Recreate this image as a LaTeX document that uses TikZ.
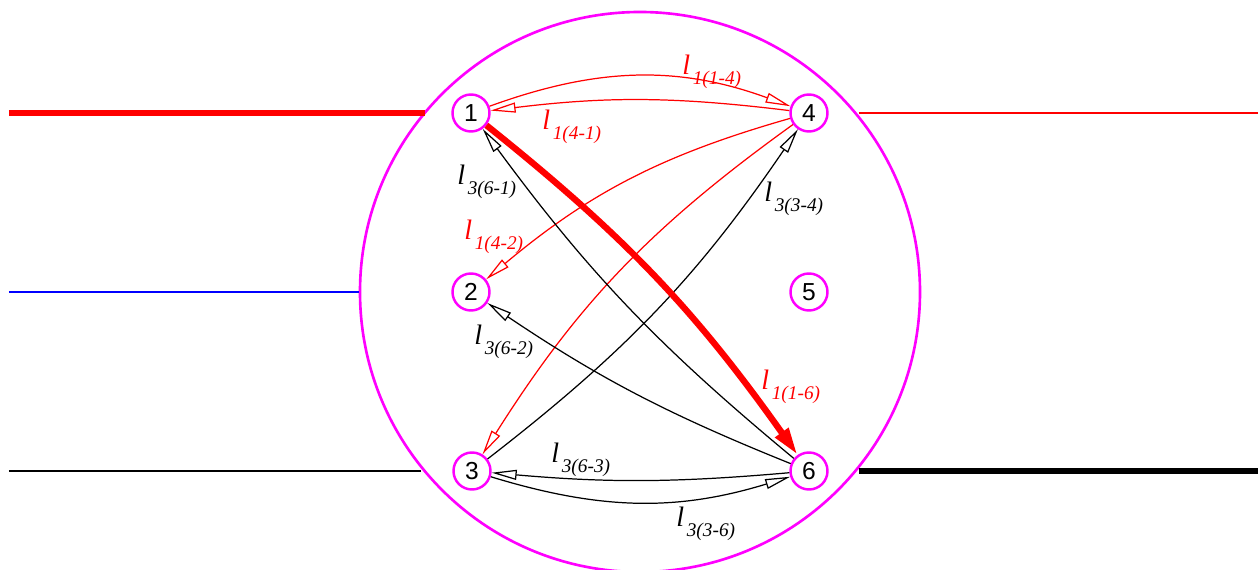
\documentclass[tikz,border=0pt]{standalone}
\usepackage{fontspec}
\setmainfont{Liberation Serif}
\setsansfont{Liberation Sans}
\usepackage{tikz}
\usetikzlibrary{arrows.meta,positioning}
\definecolor{mag}{RGB}{255,0,255}
\definecolor{lred}{RGB}{255,0,0}
\definecolor{lblue}{RGB}{0,0,255}
\newcommand{\lk}[2]{\textit{l}\hspace{1.5pt}\raisebox{-5.5pt}{\fontsize{11}{13}\selectfont\textit{#1(#2)}}}
\tikzset{
  bus/.style={circle,draw=mag,line width=1.5pt,minimum size=11.2cm,inner sep=0pt},
  pin/.style={circle,draw=mag,fill=white,line width=1.4pt,minimum size=0.74cm,inner sep=0pt,
    font=\sffamily\fontsize{14}{16}\selectfont},
  feed/.style={line width=0.7pt},
  heavy/.style={line width=3.8pt},
  lnk/.style={line width=0.7pt,-{Triangle[open,length=5mm,width=2mm]}},
  lnkmain/.style={lred,line width=3.6pt,-{Triangle[length=5.5mm,width=3mm]}},
  tag/.style={inner sep=0pt,anchor=base west,font=\fontsize{16}{18}\selectfont},
}

\begin{document}
\begin{tikzpicture}
  \useasboundingbox (0,0) rectangle (25.16,11.4);
  % ---------- substation and its six nodes ----------
  \node[bus] (bus) at (12.8,5.56) {};
  \node[pin] (n1) at (9.42,9.14) {1};
  \node[pin] (n4) at (16.18,9.14) {4};
  \node[pin] (n2) at (9.42,5.56) {2};
  \node[pin] (n5) at (16.18,5.56) {5};
  \node[pin] (n3) at (9.44,1.98) {3};
  \node[pin] (n6) at (16.18,1.98) {6};
  % ---------- feeders ----------
  \coordinate (inR) at (0.18,9.14);
  \coordinate (inB) at (0.18,5.56);
  \coordinate (inK) at (0.18,1.98);
  \coordinate (outR) at (25.16,9.14);
  \coordinate (outK) at (25.16,1.98);
  \draw[lred,heavy] (inR) -- (bus.140.3 |- inR);
  \draw[lblue,feed] (inB) -- (bus.west |- inB);
  \draw[feed] (inK) -- (bus.219.7 |- inK);
  \draw[lred,feed] (bus.39.7 |- outR) -- (outR);
  \draw[heavy] (bus.-39.7 |- outK) -- (outK);
  % ---------- links ----------
  \draw[lnk,lred] (n1) to[bend left=20] (n4);
  \draw[lnk,lred] (n4) to[bend right=7] (n1);
  \draw[lnk,lred] (n4) to[bend right=12] (n2);
  \draw[lnk,lred] (n4) to[bend right=11] (n3);
  \draw[lnk] (n6) to[bend left=7] (n1);
  \draw[lnk] (n3) to[bend right=9] (n4);
  \draw[lnk] (n6) to[bend left=6] (n2);
  \draw[lnk] (n6) to[bend left=5] (n3);
  \draw[lnk] (n3) to[bend right=17] (n6);
  \draw[lnkmain] (n1) to[bend left=8] (n6);
  % ---------- labels ----------
  \node[tag,lred] (t14) at (13.64,9.90) {\lk{1}{1-4}};
  \node[tag,lred] (t41) at (10.84,8.80) {\lk{1}{4-1}};
  \node[tag]      (t61) at (9.14,7.70)  {\lk{3}{6-1}};
  \node[tag,lred] (t42) at (9.28,6.60)  {\lk{1}{4-2}};
  \node[tag]      (t34) at (15.28,7.36) {\lk{3}{3-4}};
  \node[tag]      (t62) at (9.48,4.50)  {\lk{3}{6-2}};
  \node[tag,lred] (t16) at (15.22,3.60) {\lk{1}{1-6}};
  \node[tag]      (t63) at (11.02,2.14) {\lk{3}{6-3}};
  \node[tag]      (t36) at (13.52,0.86) {\lk{3}{3-6}};
\end{tikzpicture}
\end{document}
